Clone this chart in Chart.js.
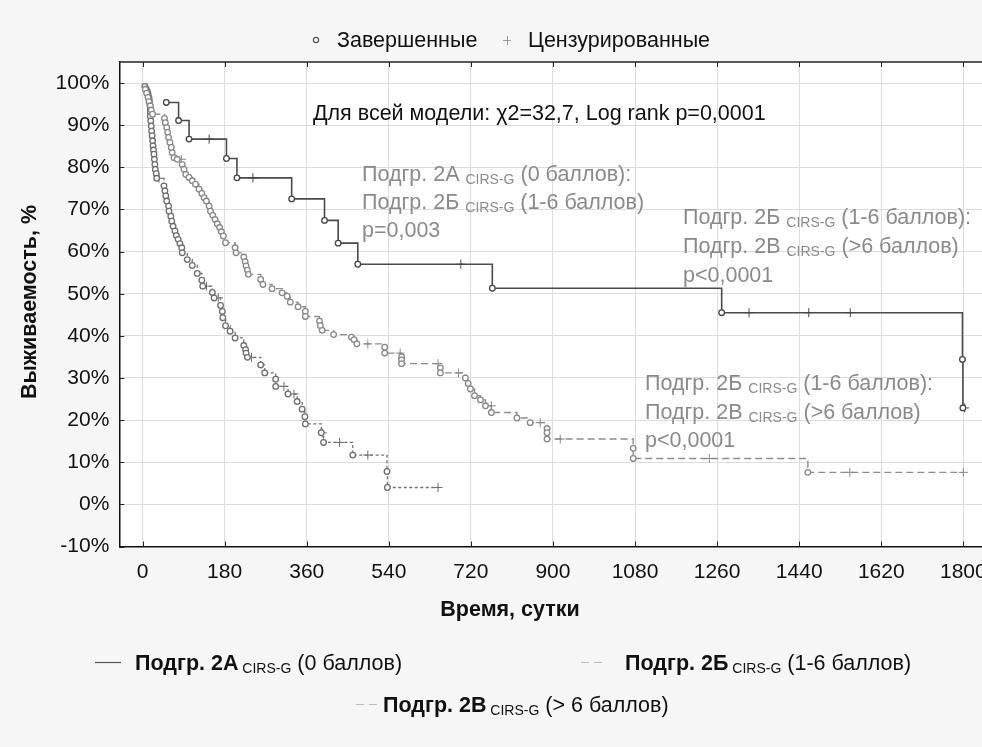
<!DOCTYPE html>
<html><head><meta charset="utf-8">
<script src="https://cdn.jsdelivr.net/npm/chart.js@4.4.1/dist/chart.umd.min.js"></script>
<style>
html,body{margin:0;padding:0;background:#f6f6f6;overflow:hidden;width:982px;height:747px;}
#wrap{position:absolute;left:0;top:0;width:1000px;height:747px;}
</style></head><body>
<div id="wrap"><canvas id="c" width="1000" height="747"></canvas></div>
<script>
// ---- tick labels ----
const xTicks = [0,180,360,540,720,900,1080,1260,1440,1620,1800];
const yTicks = [-10,0,10,20,30,40,50,60,70,80,90,100];

// ---- Подгр. 2А (0 баллов) ----
const aEventT = [52,79,102,184,207,327,399,429,472,767,1270,1798,1799];
const aEventS = [95.4,91.1,86.7,82.1,77.5,72.5,67.4,62.0,57.0,51.3,45.5,34.4,22.9];
const aCensT  = [146,242,698,1330,1461,1552,1803];
const aCensS  = [86.7,77.5,57.0,45.5,45.5,45.5,22.9];

// ---- Подгр. 2Б (1-6 баллов) ----
const bEventT = [6,9,12,14,17,19,22,48,50,53,55,57,60,63,65,69,76,87,91,95,102,109,116,124,130,135,140,146,149,154,159,164,169,173,177,182,203,205,222,225,227,230,232,259,264,284,306,317,324,341,357,357,388,390,394,419,458,464,470,531,531,568,568,568,653,653,708,714,719,728,741,752,765,821,850,887,887,887,1076,1076,1459];
const bEventS = [98.5,97.6,96.6,95.6,94.6,93.6,92.6,91.6,90.6,89.4,88.3,87.1,85.9,84.7,83.5,82.3,81.9,80.7,79.5,78.3,77.6,76.8,76.0,74.8,73.8,72.8,72.0,70.8,69.6,68.6,67.6,66.6,65.7,64.7,63.7,62.1,60.9,59.7,58.7,57.6,56.6,55.6,54.6,53.4,52.2,51.2,50.2,49.4,48.0,46.9,45.8,44.6,43.5,42.4,41.3,40.3,39.7,39.1,38.1,37.3,35.9,35.0,34.3,33.4,32.4,31.2,30.0,28.7,27.4,25.8,24.8,23.4,21.8,20.5,19.4,18.0,17.0,15.5,13.3,10.9,7.6];
const bCensT  = [85,494,565,648,693,765,872,916,1243,1551,1800];
const bCensS  = [81.9,38.1,35.9,33.4,31.2,23.4,19.4,15.5,10.9,7.6,7.6];

// ---- Подгр. 2В (> 6 баллов) ----
const cEventT = [5,8,11,12,14,15,16,17,17,17,18,19,20,21,22,23,24,25,26,27,28,30,31,47,49,51,53,57,58,62,64,67,71,74,78,82,86,87,98,109,120,130,132,153,157,171,175,176,182,192,203,222,226,227,230,259,268,292,292,319,339,350,356,357,392,397,461,536,537];
const cEventS = [99.2,98.6,97.9,97.4,96.6,95.8,94.8,93.8,93.0,92.1,91.0,89.8,88.6,87.5,86.3,85.1,84.1,83.1,81.9,80.7,79.5,78.5,77.4,75.6,74.4,73.2,72.0,70.8,69.6,68.4,67.2,66.0,64.9,63.8,62.9,61.9,60.9,59.7,58.1,56.7,54.8,53.2,51.8,50.3,49.0,47.2,45.8,44.3,42.4,41.1,39.5,37.7,36.7,35.9,34.9,33.1,31.2,29.7,28.0,26.2,24.4,22.6,20.8,19.1,17.0,14.7,11.7,7.8,4.0];
const cCensT  = [36,140,166,239,310,332,394,432,494,648];
const cCensS  = [77.4,51.8,49.0,34.9,28.0,26.2,17.0,14.7,11.7,4.0];

const FONT = '"Liberation Sans", Arial, sans-serif';

function pts(t, s) { return t.map((v, i) => ({x: v, y: s[i]})); }
function kmLine(et, es, ct, cs) {
  const p = pts(et, es).concat(pts(ct, cs));
  p.sort((a, b) => a.x - b.x || b.y - a.y);
  return p;
}
function lineDs(data, color, width, dash) {
  return {type:'scatter', data, showLine:true, stepped:true, borderColor:color, borderWidth:width,
          borderDash:dash, pointRadius:0, fill:false, order:10};
}
function evDs(data, color) {
  return {type:'scatter', data, showLine:false, pointStyle:'circle', pointRadius:2.8,
          pointBorderWidth:1.3, pointBorderColor:color, pointBackgroundColor:'#ffffff', order:1};
}
function ceDs(data, color) {
  return {type:'scatter', data, showLine:false, pointStyle:'cross', pointRadius:4.5,
          pointBorderWidth:1, pointBorderColor:color, order:1};
}

const colA = '#4a4a4a', colB = '#8c8c8c', colC = '#707070';

function rich(ctx, x, y, parts) {
  ctx.textAlign = 'left'; ctx.textBaseline = 'alphabetic';
  for (const [t, f, c, dy] of parts) {
    ctx.font = f; ctx.fillStyle = c;
    ctx.fillText(t, x, y + (dy || 0));
    x += ctx.measureText(t).width;
  }
}

const deco = {
  id: 'deco',
  beforeDraw(chart) {
    const ctx = chart.ctx, a = chart.chartArea;
    ctx.save();
    ctx.fillStyle = '#f6f6f6'; ctx.fillRect(0, 0, chart.width, chart.height);
    ctx.fillStyle = '#ffffff'; ctx.fillRect(a.left, a.top, a.right - a.left, a.bottom - a.top);
    ctx.restore();
  },
  afterDraw(chart) {
    const ctx = chart.ctx, a = chart.chartArea;
    const xs = chart.scales.x, ys = chart.scales.y;
    ctx.save();
    // frame top
    ctx.strokeStyle = '#222'; ctx.lineWidth = 1.5;
    ctx.beginPath(); ctx.moveTo(a.left, a.top); ctx.lineTo(a.right, a.top); ctx.stroke();
    // inward ticks
    ctx.lineWidth = 1;
    ctx.beginPath();
    for (const v of yTicks) { const y = Math.round(ys.getPixelForValue(v)) + 0.5; ctx.moveTo(a.left, y); ctx.lineTo(a.left + 5, y); }
    for (const v of xTicks) { const x = Math.round(xs.getPixelForValue(v)) + 0.5; ctx.moveTo(x, a.bottom); ctx.lineTo(x, a.bottom - 5); ctx.moveTo(x, a.top); ctx.lineTo(x, a.top + 5); }
    ctx.stroke();

    const N = '21.5px ' + FONT, S = '14px ' + FONT, B = 'bold 21.5px ' + FONT;
    const g = '#8a8a8a';
    // top legend
    ctx.strokeStyle = '#555'; ctx.lineWidth = 1.2;
    ctx.beginPath(); ctx.arc(316, 40, 2.6, 0, Math.PI * 2); ctx.stroke();
    ctx.strokeStyle = '#999'; ctx.lineWidth = 1;
    ctx.beginPath(); ctx.moveTo(503, 40.5); ctx.lineTo(511, 40.5); ctx.moveTo(507.5, 36); ctx.lineTo(507.5, 45); ctx.stroke();
    rich(ctx, 337, 47, [['Завершенные', N, '#111']]);
    rich(ctx, 528, 47, [['Цензурированные', N, '#111']]);

    // annotations
    rich(ctx, 313, 120, [['Для всей модели: χ2=32,7, Log rank p=0,0001', N, '#111']]);
    rich(ctx, 362, 181, [['Подгр. 2А ', N, g], ['CIRS-G', S, g, 3], [' (0 баллов):', N, g]]);
    rich(ctx, 362, 209, [['Подгр. 2Б ', N, g], ['CIRS-G', S, g, 3], [' (1-6 баллов)', N, g]]);
    rich(ctx, 362, 237, [['p=0,003', N, g]]);

    rich(ctx, 683, 224, [['Подгр. 2Б ', N, g], ['CIRS-G', S, g, 3], [' (1-6 баллов):', N, g]]);
    rich(ctx, 683, 253, [['Подгр. 2В ', N, g], ['CIRS-G', S, g, 3], [' (>6 баллов)', N, g]]);
    rich(ctx, 683, 282, [['p<0,0001', N, g]]);

    rich(ctx, 645, 390, [['Подгр. 2Б ', N, g], ['CIRS-G', S, g, 3], [' (1-6 баллов):', N, g]]);
    rich(ctx, 645, 418.5, [['Подгр. 2В ', N, g], ['CIRS-G', S, g, 3], [' (>6 баллов)', N, g]]);
    rich(ctx, 645, 447, [['p<0,0001', N, g]]);

    // axis titles
    ctx.font = B; ctx.fillStyle = '#111'; ctx.textAlign = 'center'; ctx.textBaseline = 'middle';
    ctx.fillText('Время, сутки', 510, 610);
    ctx.save(); ctx.translate(30, 302); ctx.rotate(-Math.PI / 2); ctx.fillText('Выживаемость, %', 0, 0); ctx.restore();

    // bottom legend
    ctx.lineWidth = 1.2;
    ctx.strokeStyle = '#555'; ctx.setLineDash([]);
    ctx.beginPath(); ctx.moveTo(95, 662.5); ctx.lineTo(121, 662.5); ctx.stroke();
    ctx.strokeStyle = '#bbb'; ctx.setLineDash([8, 5]);
    ctx.beginPath(); ctx.moveTo(581, 662.5); ctx.lineTo(606, 662.5); ctx.stroke();
    ctx.beginPath(); ctx.moveTo(356, 704.5); ctx.lineTo(378, 704.5); ctx.stroke();
    ctx.setLineDash([]);
    rich(ctx, 135, 670, [['Подгр. 2А', B, '#111'], [' CIRS-G', S, '#111', 3], [' (0 баллов)', N, '#111']]);
    rich(ctx, 625, 670, [['Подгр. 2Б', B, '#111'], [' CIRS-G', S, '#111', 3], [' (1-6 баллов)', N, '#111']]);
    rich(ctx, 383, 712, [['Подгр. 2В', B, '#111'], [' CIRS-G', S, '#111', 3], [' (> 6 баллов)', N, '#111']]);
    ctx.restore();
  }
};

new Chart(document.getElementById('c'), {
  type: 'scatter',
  data: {
    datasets: [
      lineDs(kmLine(aEventT, aEventS, aCensT, aCensS), colA, 1.6, []),
      lineDs(kmLine(bEventT, bEventS, bCensT, bCensS), colB, 1.4, [7, 4]),
      lineDs(kmLine(cEventT, cEventS, cCensT, cCensS), colC, 1.3, [3, 2.5]),
      evDs(pts(aEventT, aEventS), '#444'),
      evDs(pts(bEventT, bEventS), '#888'),
      evDs(pts(cEventT, cEventS), '#6e6e6e'),
      ceDs(pts(aCensT, aCensS), '#444'),
      ceDs(pts(bCensT, bCensS), '#888'),
      ceDs(pts(cCensT, cCensS), '#6e6e6e')
    ]
  },
  options: {
    responsive: false, animation: false, devicePixelRatio: 1,
    layout: {padding: {left: 0, top: 62, right: 10, bottom: 0}},
    plugins: {legend: {display: false}, tooltip: {enabled: false}},
    scales: {
      x: {
        type: 'linear', min: -51, max: 1853,
        afterBuildTicks: s => { s.ticks = xTicks.map(v => ({value: v})); },
        afterFit: s => { s.height = 200.5; },
        ticks: {font: {family: FONT, size: 21}, color: '#111', padding: 13, maxRotation: 0, autoSkip: false, callback: v => String(v)},
        grid: {color: '#dddddd', lineWidth: 1, drawTicks: false},
        border: {display: true, color: '#111', width: 1.5}
      },
      y: {
        type: 'linear', min: -10, max: 105,
        afterBuildTicks: s => { s.ticks = yTicks.map(v => ({value: v})); },
        afterFit: s => { s.width = 119.3; },
        ticks: {font: {family: FONT, size: 21}, color: '#111', padding: 10, autoSkip: false, callback: v => v + '%'},
        grid: {color: '#dddddd', lineWidth: 1, drawTicks: false},
        border: {display: true, color: '#111', width: 1.5}
      }
    }
  },
  plugins: [deco]
});
</script>
</body></html>
